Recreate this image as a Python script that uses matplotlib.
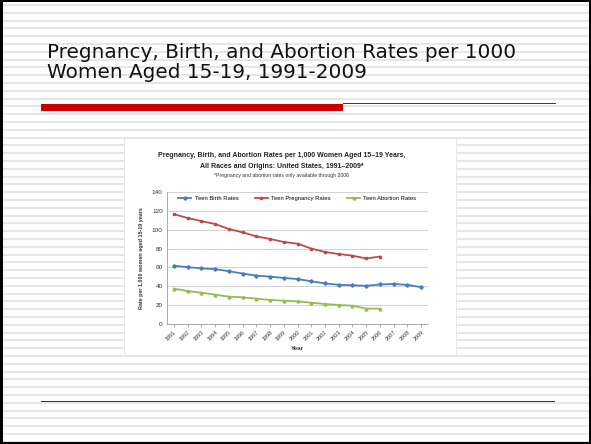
import matplotlib
matplotlib.use("Agg")
import matplotlib.pyplot as plt
from matplotlib.patches import Rectangle

# Rates per 1,000 women aged 15-19
years = list(range(1991, 2010))
birth_rates = [61.8, 60.3, 59.0, 58.2, 56.0, 53.5, 51.3, 50.3, 48.8, 47.7,
               45.3, 43.0, 41.6, 41.1, 40.5, 41.9, 42.5, 41.5, 39.1]
pregnancy_rates = [116.5, 112.4, 109.2, 106.0, 100.8, 97.2, 93.0, 90.2, 87.0,
                   85.2, 80.0, 76.4, 74.2, 72.5, 69.5, 71.5]
abortion_rates = [37.5, 35.0, 33.2, 31.1, 29.0, 28.3, 26.9, 25.5, 24.7, 24.0,
                  22.6, 21.2, 20.2, 19.4, 16.3, 16.3]
y_ticks = [0, 20, 40, 60, 80, 100, 120, 140]

slide_title = "Pregnancy, Birth, and Abortion Rates per 1000\nWomen Aged 15-19, 1991-2009"
chart_title = ("Pregnancy, Birth, and Abortion Rates per 1,000 Women Aged 15\u201319 Years,\n"
               "All Races and Origins: United States, 1991\u20132009*")
chart_note = "*Pregnancy and abortion rates only available through 2006"

W, H = 591, 444
fig = plt.figure(figsize=(W / 100, H / 100), dpi=100)
fig.patch.set_facecolor("white")

# Slide background in pixel coordinates
bg = fig.add_axes([0, 0, 1, 1])
bg.set_xlim(0, W)
bg.set_ylim(H, 0)
bg.axis("off")

y = 5.0
while y < H:
    bg.add_patch(Rectangle((0, y - 1.0), W, 2.0, facecolor="#e6e6e6", edgecolor="none"))
    y += 7.8

# Slide border
bg.add_patch(Rectangle((0, 0), 3, H, facecolor="black", edgecolor="none"))
bg.add_patch(Rectangle((0, 0), W, 2, facecolor="black", edgecolor="none"))
bg.add_patch(Rectangle((W - 2, 0), 2, H, facecolor="black", edgecolor="none"))
bg.add_patch(Rectangle((0, H - 2), W, 2, facecolor="black", edgecolor="none"))

# Title rules
bg.add_patch(Rectangle((41, 103.5), 302, 7, facecolor="#cc0000", edgecolor="none"))
bg.add_patch(Rectangle((343, 102.5), 213, 1.3, facecolor="#cc0000", edgecolor="none"))
bg.add_patch(Rectangle((41, 400.5), 514, 1.3, facecolor="#b00000", edgecolor="none"))

bg.text(47, 78, slide_title, fontsize=14.4, color="#111111", va="baseline",
        ha="left", linespacing=1.05, family="DejaVu Sans")

# Chart panel
bg.add_patch(Rectangle((124, 138), 332, 217, facecolor="white", edgecolor="#dddddd", lw=0.5))
bg.text(282, 168, chart_title, fontsize=5.0, fontweight="bold", color="#222222",
        ha="center", va="baseline", linespacing=1.9, family="Liberation Sans")
bg.text(282, 177, chart_note, fontsize=3.7, color="#333333", ha="center",
        va="baseline", family="Liberation Sans")

ax = fig.add_axes([167 / W, 1 - 324 / H, (428 - 167) / W, (324 - 192) / H])
ax.set_facecolor("white")
ax.plot(years, birth_rates, color="#4a7ebb", lw=1.3, marker="D", ms=1.8,
        label="Teen Birth Rates")
ax.plot(years[:len(pregnancy_rates)], pregnancy_rates, color="#be4b48", lw=1.3,
        marker="s", ms=2.0, label="Teen Pregnancy Rates")
ax.plot(years[:len(abortion_rates)], abortion_rates, color="#98b954", lw=1.3,
        marker="^", ms=2.0, label="Teen Abortion Rates")

ax.set_xlim(years[0] - 0.5, years[-1] + 0.5)
ax.set_ylim(0, 140)
ax.set_yticks(y_ticks)
ax.set_yticklabels([str(v) for v in y_ticks], fontsize=4.6, color="#333333",
                   family="Liberation Sans")
ax.set_xticks(years)
ax.set_xticklabels([str(v) for v in years], rotation=45, ha="right",
                   rotation_mode="anchor", fontsize=4.0, color="#333333",
                   family="Liberation Sans")
ax.grid(axis="y", color="#bfbfbf", lw=0.5)
ax.set_axisbelow(True)
for s in ["top", "right"]:
    ax.spines[s].set_visible(False)
ax.spines["left"].set_color("#888888")
ax.spines["bottom"].set_color("#888888")
ax.spines["left"].set_linewidth(0.5)
ax.spines["bottom"].set_linewidth(0.5)
ax.tick_params(axis="y", length=0, pad=3)
ax.tick_params(axis="x", length=2, width=0.5, color="#888888", pad=2)

ax.set_xlabel("Year", fontsize=4.5, fontweight="bold", color="#333333",
              family="Liberation Sans", labelpad=3)
ax.set_ylabel("Rate per 1,000 women aged 15-19 years", fontsize=3.9,
              fontweight="bold", color="#333333", family="Liberation Sans",
              labelpad=6)

leg = ax.legend(loc="upper center", bbox_to_anchor=(0.5, 1.0), ncol=3,
                frameon=False, prop={"family": "Liberation Sans", "size": 4.2},
                handlelength=2.2, columnspacing=2.8, handletextpad=0.6,
                borderaxespad=0.3)

fig.savefig("out.png", dpi=100, facecolor="white")
